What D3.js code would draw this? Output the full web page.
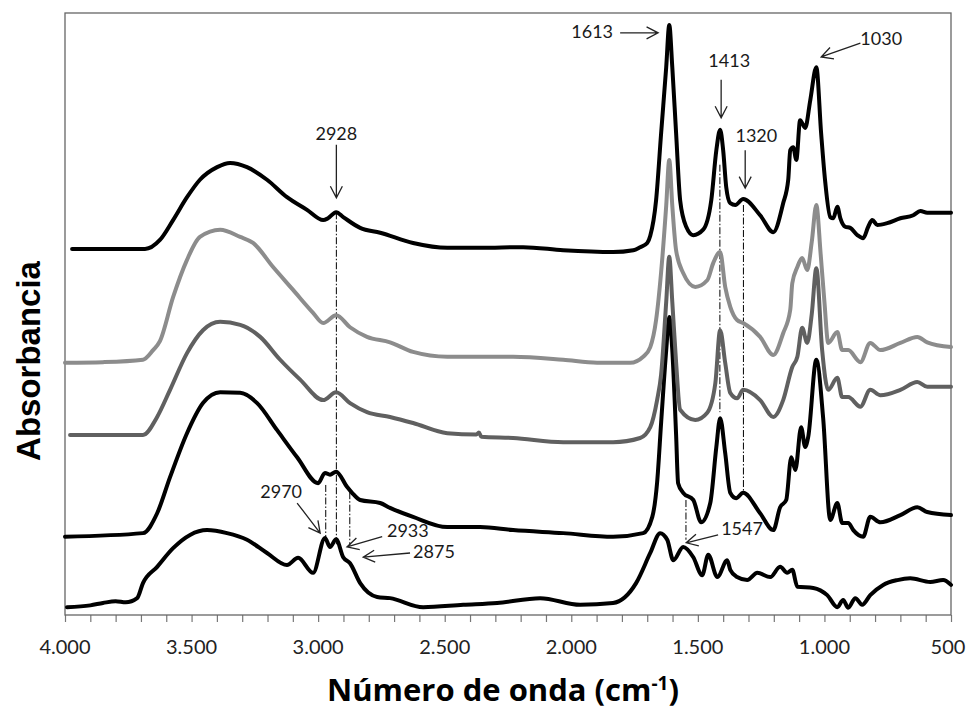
<!DOCTYPE html>
<html>
<head>
<meta charset="utf-8">
<script src="https://cdnjs.cloudflare.com/ajax/libs/d3/7.8.5/d3.min.js"></script>
<style>
	body { margin: 0; background: #ffffff; }
	#canvas { width: 966px; height: 713px; }
	.tickText { font-family: Lato, "Open Sans", sans-serif; font-size: 20px; fill: #222222; }
	.noteText { font-family: Lato, "Open Sans", sans-serif; font-size: 18px; fill: #1a1a1a; }
</style>
</head>
<body>
<div id="canvas"></div>
<script>
// spectra: [wavenumber (cm-1), absorbance (arb. units, stacked)]
var spectrum1 = [
	[3972,60.8],[3850,60.8],[3720,60.8],[3684,60.8],[3625,62.3],[3573,65.6],[3518,69.4],[3467,72.3],
	[3399,74.4],[3348,75.1],[3281,74.4],[3202,72.3],[3123,69.4],[3044,67.3],[2980,65.6],[2961,65.9],
	[2929,66.9],[2901,66.1],[2834,64.3],[2755,63.5],[2625,61.8],[2490,61.0],[2360,61.0],[2190,61.1],
	[2032,60.6],[1835,60.3],[1755,60.6],[1728,61.1],[1700,61.8],[1688,63.0],[1665,68.9],[1645,80.1],
	[1625,91.0],[1613,98.0],[1601,91.0],[1586,80.1],[1570,68.9],[1546,64.5],[1518,63.1],[1479,64.0],
	[1447,68.9],[1427,77.2],[1412,80.6],[1400,77.2],[1388,71.1],[1372,68.4],[1352,68.1],[1321,69.1],
	[1254,66.4],[1202,63.6],[1163,68.4],[1143,72.3],[1135,77.2],[1123,77.7],[1111,75.6],[1096,82.2],
	[1076,80.9],[1056,85.5],[1032,91.0],[1013,80.0],[997,72.0],[977,66.1],[965,65.9],[949,67.8],
	[937,65.9],[918,64.5],[898,64.3],[870,63.1],[847,62.6],[827,64.5],[811,65.6],[791,64.8],
	[752,65.1],[700,65.9],[649,66.4],[621,67.1],[594,66.8],[500,66.8]
];
var spectrum2 = [
	[4000,41.9],[3850,42.0],[3692,42.4],[3652,44.0],[3625,45.5],[3573,52.8],[3518,59.0],[3467,62.8],
	[3387,64.0],[3308,62.8],[3257,61.8],[3178,57.8],[3099,54.0],[3020,50.2],[2980,48.5],[2929,49.8],
	[2874,47.8],[2807,46.2],[2716,45.3],[2625,43.7],[2490,42.9],[2230,42.9],[2032,42.4],[1898,41.9],
	[1767,41.9],[1716,42.9],[1688,44.5],[1665,49.0],[1645,57.0],[1625,68.0],[1613,75.6],[1601,68.0],
	[1586,60.6],[1558,56.8],[1510,54.5],[1463,55.6],[1439,58.5],[1412,60.3],[1392,54.5],[1372,51.2],
	[1345,49.0],[1321,48.5],[1254,46.2],[1202,43.2],[1163,46.8],[1135,50.7],[1127,55.1],[1107,57.8],
	[1088,59.3],[1068,57.3],[1050,62.0],[1032,68.1],[1015,60.0],[1000,52.0],[985,45.2],[949,47.0],
	[930,44.0],[906,44.0],[858,42.0],[819,45.2],[779,44.0],[700,45.2],[633,46.2],[594,45.3],[500,44.5]
];
var spectrum3 = [
	[3980,29.9],[3692,29.9],[3636,32.9],[3585,37.4],[3518,43.5],[3455,47.3],[3387,48.7],[3308,48.2],
	[3229,46.2],[3150,42.4],[3071,39.1],[2980,35.7],[2929,37.0],[2874,35.2],[2807,33.7],[2716,32.9],
	[2625,31.9],[2490,30.2],[2375,30.0],[2365,30.3],[2355,29.6],[2230,29.4],[2032,28.7],[1835,28.7],
	[1728,29.4],[1688,31.2],[1661,35.7],[1645,40.0],[1625,52.0],[1613,59.5],[1601,52.0],[1586,42.0],
	[1570,34.1],[1510,32.4],[1463,33.6],[1431,38.5],[1412,47.3],[1392,41.9],[1372,36.9],[1345,36.0],
	[1321,37.4],[1254,35.7],[1202,32.9],[1163,35.7],[1127,41.2],[1107,42.9],[1088,47.7],[1068,45.2],
	[1050,50.0],[1032,57.6],[1009,44.0],[985,37.4],[949,39.4],[930,36.2],[906,36.2],[858,34.6],
	[819,37.4],[779,36.5],[700,37.4],[633,38.7],[594,37.9],[500,37.9]
];
var spectrum4 = [
	[4000,13.0],[3692,13.6],[3636,16.9],[3585,22.9],[3518,30.2],[3455,35.2],[3387,37.0],[3308,36.9],
	[3241,35.2],[3162,30.7],[3083,26.2],[3000,21.9],[2973,23.6],[2953,23.3],[2929,23.8],[2886,21.3],
	[2866,20.3],[2834,19.1],[2755,18.6],[2716,17.8],[2625,16.3],[2490,14.6],[2360,14.6],[2230,14.1],
	[2032,13.6],[1835,13.0],[1716,13.6],[1680,16.3],[1661,22.0],[1645,32.0],[1625,44.0],[1613,49.5],
	[1601,44.0],[1586,30.0],[1578,21.9],[1558,20.3],[1518,19.1],[1487,15.4],[1451,18.6],[1427,27.9],
	[1412,32.7],[1392,26.9],[1372,20.3],[1349,19.4],[1321,20.3],[1254,16.9],[1202,14.1],[1175,17.9],
	[1151,19.1],[1131,26.2],[1115,24.1],[1092,31.2],[1076,27.9],[1064,29.6],[1032,42.4],[1005,32.7],
	[977,15.8],[949,18.6],[930,15.3],[906,15.3],[886,14.1],[847,13.0],[819,16.3],[779,15.4],
	[700,16.6],[633,17.9],[594,17.1],[500,16.6]
];
var spectrum5 = [
	[3992,1.3],[3900,1.6],[3850,2.0],[3800,2.3],[3760,2.1],[3715,2.8],[3692,5.3],[3636,8.0],
	[3573,11.1],[3506,13.3],[3439,14.1],[3360,13.6],[3281,12.5],[3202,10.3],[3123,8.3],[3079,9.5],
	[3020,7.0],[2973,12.8],[2953,11.3],[2929,12.6],[2901,9.6],[2874,8.6],[2834,5.3],[2767,3.0],
	[2716,2.8],[2585,1.3],[2427,1.7],[2293,2.0],[2123,2.8],[1965,1.7],[1835,2.0],[1744,5.3],
	[1688,10.3],[1649,13.6],[1621,12.5],[1597,9.1],[1558,11.3],[1518,9.6],[1483,6.6],[1459,10.0],
	[1423,6.3],[1384,9.1],[1372,7.5],[1345,6.3],[1305,5.8],[1265,7.0],[1214,6.3],[1175,8.0],
	[1147,7.0],[1127,7.5],[1107,4.7],[1044,4.5],[989,3.3],[949,1.3],[926,2.5],[906,1.2],
	[878,2.8],[851,1.7],[819,3.3],[768,5.0],[712,5.8],[661,6.1],[582,5.5],[531,5.8],[500,5.0]
];

var seriesColors = ["#000000", "#8c8c8c", "#606060", "#000000", "#000000"];

var xTicks = [4000, 3500, 3000, 2500, 2000, 1500, 1000, 500];

// dash-dot guides: [wavenumber, top, bottom]
var guides = [
	[2928,66.9,11.6],[2970,21.6,12.1],[2875,20.4,11.6],
	[1413,74.8,33.7],[1320,68.1,20.4],[1547,19.1,12.5]
];

// labels: [text, x, y, anchor, arrowFromX, arrowFromY, arrowToX, arrowToY]
var notes = [
	["2928", 2928, 78.9, "middle", 2928, 78.1, 2928, 69.3],
	["1613", 1835, 95.8, "end", 1807, 96.7, 1657, 96.7],
	["1413", 1376, 91.0, "middle", 1408, 88.9, 1408, 82.6],
	["1320", 1269, 78.6, "middle", 1313, 77.2, 1313, 70.9],
	["1030", 858, 94.7, "start", 858, 95.0, 1013, 92.7],
	["1547", 1408, 13.3, "start", 1420, 13.3, 1546, 12.0],
	["2970", 3146, 19.4, "middle", 3083, 18.6, 2992, 13.6],
	["2933", 2728, 13.0, "start", 2747, 13.0, 2886, 11.3],
	["2875", 2625, 9.5, "start", 2637, 10.3, 2822, 9.6]
];

drawVis();

function drawVis(){
	var w = 966, h = 713;
	var left = 65, right = 951, top = 13, bottom = 615;

	var svg = d3.select("#canvas")
		.append("svg")
		.attr("width", w)
		.attr("height", h);

	var xScale = d3.scaleLinear()
		.domain([4000, 500])
		.range([left, right]);

	var yScale = d3.scaleLinear()
		.domain([0, 100])
		.range([bottom, top]);

	var locale = d3.formatLocale({decimal: ",", thousands: ".", grouping: [3], currency: ["", ""]});
	var fmt = locale.format(",d");

	// minor ticks every 100
	var xAxis = d3.axisBottom(xScale)
		.tickValues(d3.range(4000, 499, -100))
		.tickSize(7)
		.tickFormat("");

	var axisG = svg.append("g")
		.attr("transform", "translate(0," + bottom + ")")
		.call(xAxis);
	axisG.select(".domain").remove();
	axisG.selectAll("line").attr("stroke", "#777777").attr("stroke-width", 1.2);

	svg.selectAll(".tickText")
		.data(xTicks)
		.enter()
		.append("text")
		.attr("class", "tickText")
		.attr("x", function(d){ return Math.min(xScale(d), w - 18); })
		.attr("y", 654)
		.attr("text-anchor", "middle")
		.text(function(d){ return fmt(d); });

	// frame
	svg.append("rect")
		.attr("x", left)
		.attr("y", top)
		.attr("width", right - left)
		.attr("height", bottom - top)
		.attr("fill", "none")
		.attr("stroke", "#666666")
		.attr("stroke-width", 1.3);

	// guides
	svg.selectAll(".guide")
		.data(guides)
		.enter()
		.append("line")
		.attr("class", "guide")
		.attr("x1", function(d){ return xScale(d[0]); })
		.attr("x2", function(d){ return xScale(d[0]); })
		.attr("y1", function(d){ return yScale(d[1]); })
		.attr("y2", function(d){ return yScale(d[2]); })
		.attr("stroke", "#000000")
		.attr("stroke-width", 1)
		.attr("stroke-dasharray", "7,2,1.5,2");

	var line = d3.line()
		.x(function(d){ return xScale(d[0]); })
		.y(function(d){ return yScale(d[1]); })
		.curve(d3.curveMonotoneX);

	var spectra = [spectrum5, spectrum4, spectrum3, spectrum2, spectrum1];
	var colors = [seriesColors[4], seriesColors[3], seriesColors[2], seriesColors[1], seriesColors[0]];

	svg.selectAll(".spectrum")
		.data(spectra)
		.enter()
		.append("path")
		.attr("class", "spectrum")
		.attr("d", function(d){ return line(d); })
		.attr("fill", "none")
		.attr("stroke", function(d,i){ return colors[i]; })
		.attr("stroke-width", 4)
		.attr("stroke-linejoin", "round")
		.attr("stroke-linecap", "round");

	// labels and arrows
	svg.selectAll(".note")
		.data(notes)
		.enter()
		.append("g")
		.attr("class", "note")
		.each(function(d){
			var g = d3.select(this);
			var x1 = xScale(d[4]), y1 = yScale(d[5]);
			var x2 = xScale(d[6]), y2 = yScale(d[7]);
			var ang = Math.atan2(y2 - y1, x2 - x1);
			var len = 13, spread = 0.48;
			var ax = x2 - len * Math.cos(ang - spread), ay = y2 - len * Math.sin(ang - spread);
			var bx = x2 - len * Math.cos(ang + spread), by = y2 - len * Math.sin(ang + spread);

			g.append("path")
				.attr("d", "M" + x1 + "," + y1 + "L" + x2 + "," + y2 +
					"M" + ax + "," + ay + "L" + x2 + "," + y2 + "L" + bx + "," + by)
				.attr("fill", "none")
				.attr("stroke", "#222222")
				.attr("stroke-width", 1.3);

			g.append("text")
				.attr("class", "noteText")
				.attr("x", xScale(d[1]))
				.attr("y", yScale(d[2]))
				.attr("text-anchor", d[3])
				.text(d[0]);
		});

	// axis titles
	var xTitle = svg.append("text")
		.attr("x", 503)
		.attr("y", 701)
		.attr("text-anchor", "middle")
		.attr("font-family", "'Open Sans', Lato, sans-serif")
		.attr("font-weight", "bold")
		.attr("font-size", 31)
		.attr("fill", "#000000");
	xTitle.append("tspan").text("Número de onda (cm");
	xTitle.append("tspan")
		.attr("font-size", 19)
		.attr("baseline-shift", "60%")
		.text("-1");
	xTitle.append("tspan").text(")");

	svg.append("text")
		.attr("transform", "translate(40,361) rotate(-90)")
		.attr("text-anchor", "middle")
		.attr("font-family", "'Liberation Sans', Arial, sans-serif")
		.attr("font-weight", "bold")
		.attr("font-size", 33)
		.attr("fill", "#000000")
		.text("Absorbancia");
}
</script>
</body>
</html>
